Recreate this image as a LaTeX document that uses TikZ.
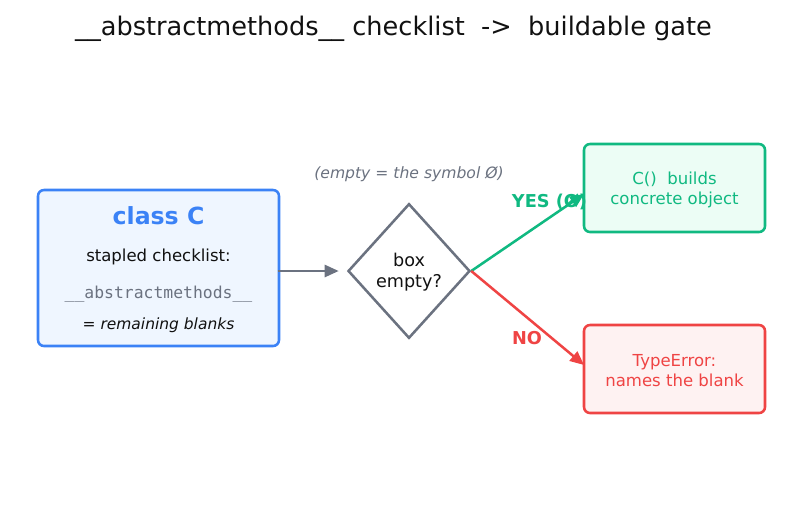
\documentclass[tikz,border=0pt]{standalone}
\usepackage{fontspec}
\setmainfont{DejaVu Sans}
\setmonofont{DejaVu Sans Mono}
\usetikzlibrary{shapes.geometric,arrows.meta}
\definecolor{blueS}{HTML}{3B82F6}
\definecolor{blueF}{HTML}{EFF6FF}
\definecolor{greenS}{HTML}{10B981}
\definecolor{greenF}{HTML}{ECFDF5}
\definecolor{redS}{HTML}{EF4444}
\definecolor{redF}{HTML}{FEF2F2}
\definecolor{grayS}{HTML}{6B7280}
\definecolor{darkT}{HTML}{111111}
\begin{document}
\begin{tikzpicture}[x=0.75pt,y=-0.75pt,
  card/.style={draw, line width=1.9pt, rounded corners=4.5pt, minimum width=135.75pt, minimum height=66pt, align=center, inner sep=0pt, font=\fontsize{12.4}{15.5}\selectfont},
  conn/.style={line width=1.9pt, -{Triangle[length=10.5pt,width=9pt]}},
  lbl/.style={font=\fontsize{13.3}{15}\selectfont\bfseries}]
\useasboundingbox (0,0) rectangle (787,512);
\node[font=\fontsize{19.2}{23}\selectfont, text=darkT] (title) at (393.5,28.5) {\_\_abstractmethods\_\_ checklist\ \ ->\ \ buildable gate};
\node[draw=blueS, fill=blueF, line width=1.9pt, rounded corners=4.5pt, minimum width=180.75pt, minimum height=117pt, inner sep=0pt] (C) at (158.5,268) {};
\node[text=blueS, font=\fontsize{17.7}{20}\selectfont\bfseries] (cls) at (158.5,216) {class C};
\node[text=darkT, font=\fontsize{12.4}{15}\selectfont] (stap) at (158.5,256.5) {stapled checklist:};
\node[text=grayS, font=\fontsize{12.3}{14}\ttfamily] (am) at (158.5,294) {\_\_abstractmethods\_\_};
\node[text=darkT, font=\fontsize{11.6}{14}\selectfont] (rem) at (158.5,325) {= \textit{remaining blanks}};
\node[draw=grayS, fill=white, line width=1.9pt, diamond, minimum width=91.5pt, minimum height=101pt, inner sep=0pt, aspect=0.9] (D) at (409,271) {};
\node[text=darkT, align=center, font=\fontsize{13.2}{16}\selectfont] (dt) at (409,272) {box\\empty?};
\node[text=grayS, font=\fontsize{11.7}{14}\selectfont\itshape] (note) at (409,174) {(empty = the symbol Ø)};
\node[card, draw=greenS, fill=greenF, text=greenS] (G) at (674.5,188) {};
\node[text=greenS, align=center, font=\fontsize{12.4}{15.5}\selectfont] (gt) at (674.5,190) {C()\ \ builds\\concrete object};
\node[card, draw=redS, fill=redF, text=redS] (R) at (674.5,369) {};
\node[text=redS, align=center, font=\fontsize{12.4}{15.5}\selectfont] (rt) at (674.5,370.5) {TypeError:\\names the blank};
\draw[conn, grayS] ([xshift=-2pt]C.east |- D.west) -- ([xshift=-6pt]D.west);
\node[lbl, text=greenS] (yes) at (549.5,202) {YES (Ø)};
\node[lbl, text=redS] (no) at (527,338.5) {NO};
\draw[conn, greenS] (D.east) -- ([yshift=-4.5pt, xshift=1pt]G.west);
\draw[conn, redS] (D.east) -- ([yshift=3pt, xshift=1pt]R.west);
\end{tikzpicture}
\end{document}
